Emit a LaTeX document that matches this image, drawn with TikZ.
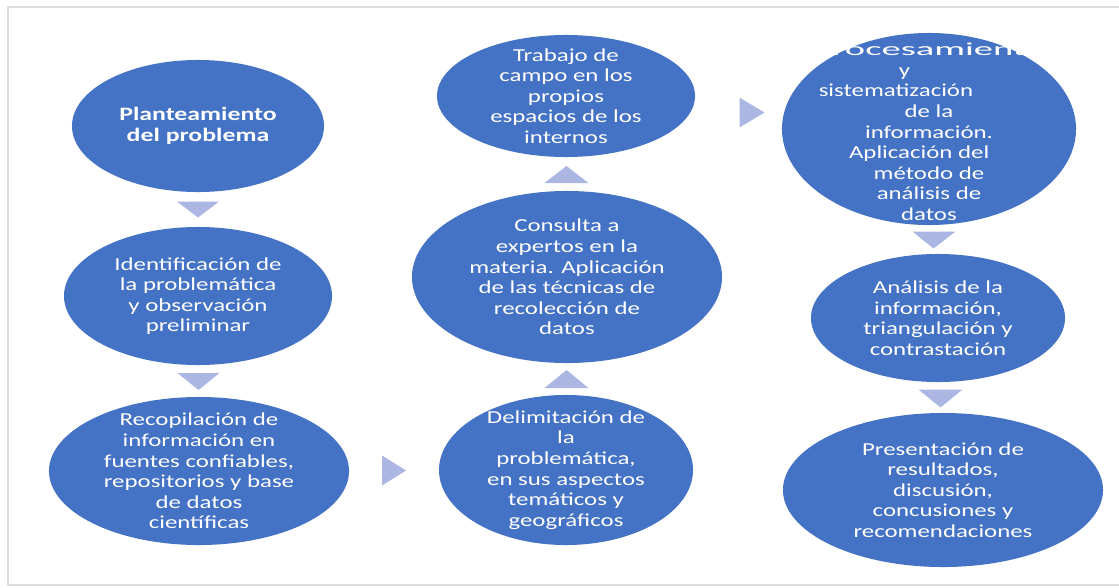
\documentclass[tikz,border=0pt]{standalone}
\usepackage{fontspec}
\newfontfamily\bubfont[FakeStretch=1.36]{Carlito}
\usetikzlibrary{calc}
\usetikzlibrary{shapes.geometric}

\definecolor{bubblue}{HTML}{4472C4}
\definecolor{trifill}{HTML}{ABB7E2}
\definecolor{framegray}{HTML}{DCDCDC}

\tikzset{
  bubble/.style={ellipse, fill=bubblue, inner sep=0pt},
  bubtext/.style={text=white, align=center, inner sep=0pt,
    font=\bubfont\fontsize{13}{14.6}\selectfont},
  tri/.style={fill=trifill}
}

\begin{document}
\begin{tikzpicture}[x=0.025cm, y=-0.025cm]

\useasboundingbox (0,0) rectangle (1119,587);
\draw[framegray, line width=1.2pt] (1119,7) -- (8,7) -- (8,585) -- (1119,585);

% first column
\node[bubble, minimum width=6.3cm, minimum height=3.3cm] (plant) at (198,126) {};
\node[bubble, minimum width=6.7cm, minimum height=3.45cm] (ident) at (198,296) {};
\node[bubble, minimum width=7.5cm, minimum height=3.7cm] (recop) at (199,471) {};

% second column
\node[bubble, minimum width=6.35cm, minimum height=3.75cm] (delim) at (566,470) {};
\node[bubble, minimum width=7.75cm, minimum height=4.3cm] (consul) at (567,277) {};
\node[bubble, minimum width=6.45cm, minimum height=3.05cm] (trab) at (566,96) {};

% third column
\node[bubble, minimum width=7.35cm, minimum height=4.8cm] (proc) at (929,129) {};
\node[bubble, minimum width=6.35cm, minimum height=3.2cm] (anal) at (938,318) {};
\node[bubble, minimum width=8cm, minimum height=3.85cm] (pres) at (943,490) {};

\node[bubtext, font=\bubfont\bfseries\fontsize{13.5}{14.6}\selectfont] (plant-t) at (plant) {Planteamiento\\del problema};
\node[bubtext] (ident-t) at (ident) {Identificación de\\la problemática\\y observación\\preliminar};
\node[bubtext] (recop-t) at (recop) {Recopilación de\\información en\\fuentes confiables,\\repositorios y base\\de datos\\científicas};
\node[bubtext] (delim-t) at (delim) {Delimitación de\\la\\problemática,\\en sus aspectos\\temáticos y\\geográficos};
\node[bubtext] (consul-t) at (consul) {Consulta a\\expertos en la\\materia. Aplicación\\de las técnicas de\\recolección de\\datos};
\node[bubtext] (trab-t) at (trab) {Trabajo de\\campo en los\\propios\\espacios de los\\internos};
\node[bubtext, yshift=-2] (proc-t) at (proc) {\scalebox{1.55}[1]{Procesamiento}\\y\rule{35pt}{0pt}\\sistematización\rule{47pt}{0pt}\\de la\\información.\\Aplicación del\rule{14pt}{0pt}\\método de\\análisis de\\datos};
\node[bubtext] (anal-t) at (anal) {Análisis de la\\información,\\triangulación y\\contrastación};
\node[bubtext] (pres-t) at (pres) {Presentación de\\resultados,\\discusión,\\concusiones y\\recomendaciones};

% arrows between the steps
\fill[tri] ($(plant.south)!.5!(ident.north)$) ++(-21,-8) -- ++(42,0) -- ++(-21,16) -- cycle;
\fill[tri] ($(ident.south)!.5!(recop.north)$) ++(-21,-8) -- ++(42,0) -- ++(-21,17) -- cycle;
\fill[tri] ($(recop.east)!.5!(delim.west)$) ++(-12,-15) -- ++(24,15) -- ++(-24,15) -- cycle;
\fill[tri] ($(delim.north)!.5!(consul.south)$) ++(-22,9) -- ++(44,0) -- ++(-22,-18) -- cycle;
\fill[tri] ($(consul.north)!.5!(trab.south)$) ++(-22,9) -- ++(44,0) -- ++(-22,-17) -- cycle;
\fill[tri] ($(trab.east)!.5!(proc.west)$) ++(1,-15) -- ++(25,15) -- ++(-25,15) -- cycle;
\fill[tri] ($(proc.south)!.5!(anal.north)$) ++(-21,-8) -- ++(43,0) -- ++(-22,17) -- cycle;
\fill[tri] ($(anal.south)!.5!(pres.north)$) ++(-22,-8) -- ++(44,0) -- ++(-22,18) -- cycle;

\end{tikzpicture}
\end{document}
